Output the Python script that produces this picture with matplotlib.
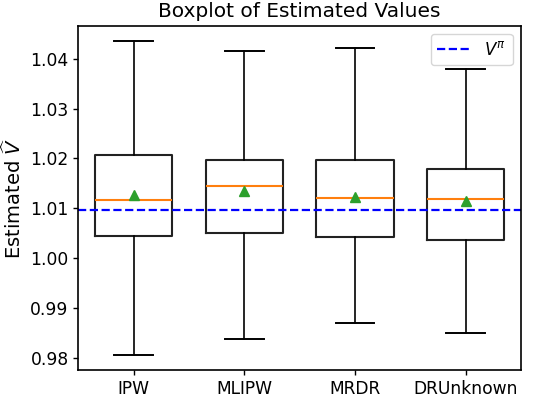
import matplotlib
matplotlib.use("Agg")
import matplotlib.pyplot as plt

# summary stats (whisker low, Q1, median, Q3, whisker high, mean)
methods = ["IPW", "MLIPW", "MRDR", "DRUnknown"]
whislo = [0.98072, 0.98392, 0.98707, 0.98513]
q1 = [1.00453, 1.00500, 1.00420, 1.00360]
med = [1.01160, 1.01454, 1.01214, 1.01180]
q3 = [1.02060, 1.01970, 1.01970, 1.01780]
whishi = [1.04344, 1.04150, 1.04210, 1.03790]
means = [1.01260, 1.01350, 1.01230, 1.01150]
v_pi = 1.00965

stats = [
    dict(label=m, whislo=lo, q1=a, med=md, q3=b, whishi=hi, mean=mn, fliers=[])
    for m, lo, a, md, b, hi, mn in zip(methods, whislo, q1, med, q3, whishi, means)
]

fig, ax = plt.subplots(figsize=(5.46, 3.96), dpi=100)
fig.subplots_adjust(left=0.1434, right=0.954, top=0.935, bottom=0.065)

ax.bxp(
    stats,
    widths=0.7,
    showmeans=True,
    boxprops=dict(linewidth=1.5, color="#222222"),
    whiskerprops=dict(linewidth=1.2),
    capprops=dict(linewidth=1.4),
    medianprops=dict(linewidth=1.5, color="C1"),
    meanprops=dict(marker="^", markerfacecolor="C2", markeredgecolor="C2", markersize=7),
)
ax.axhline(v_pi, color="blue", linestyle="--", linewidth=1.6, label=r"$V^{\pi}$")

ax.set_title("Boxplot of Estimated Values", fontsize=14.5)
ax.set_ylabel(r"Estimated $\widehat{V}$", fontsize=14)
ax.tick_params(labelsize=12.3, width=1.0)
for s in ax.spines.values():
    s.set_linewidth(1.2)
ax.legend(loc="upper right", fontsize=12)

fig.savefig("out.png", dpi=100)
